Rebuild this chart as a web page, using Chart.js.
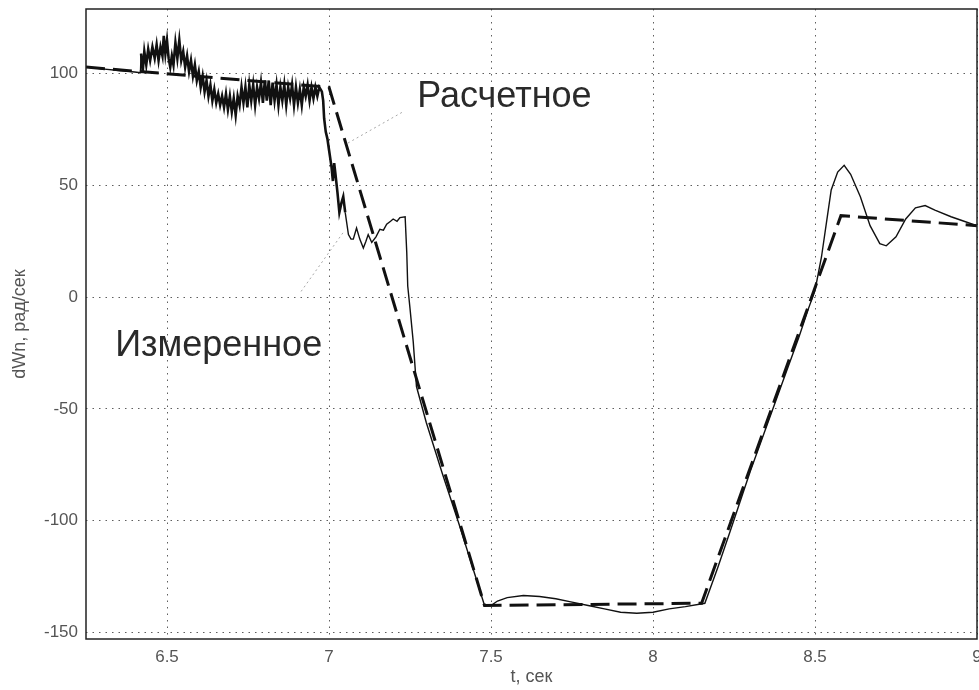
<!DOCTYPE html>
<html lang="ru">
<head>
<meta charset="utf-8">
<title>dWn, рад/сек</title>
<script src="https://cdn.jsdelivr.net/npm/chart.js@4.4.1/dist/chart.umd.min.js"></script>
<style>
  html, body { margin: 0; padding: 0; background: #fff; }
  #wrap { position: relative; width: 979px; height: 690px; }
</style>
</head>
<body>
<div id="wrap"><canvas id="chart"></canvas></div>
<script>
// Деления осей
const xTicks = [6.5, 7, 7.5, 8, 8.5, 9];
const yTicks = [-150, -100, -50, 0, 50, 100];

// Расчетное (пунктир): t, значение
const calcT = [6.25, 7.0, 7.48, 8.15, 8.58, 9.0];
const calcV = [103, 94, -138, -137, 36.5, 32];

// Измеренное (сплошная), по участкам: [t, значение]
const measStart = [[6.25, 103], [6.30, 102.2], [6.35, 101.5], [6.40, 100.8], [6.418, 100.5]];

const measNoise = [
  [6.420, 109], [6.425, 101], [6.430, 110], [6.436, 104], [6.442, 111], [6.448, 106],
  [6.455, 112], [6.462, 107], [6.468, 113], [6.474, 106], [6.480, 112], [6.486, 108],
  [6.490, 117], [6.495, 109], [6.500, 115], [6.505, 107], [6.510, 103], [6.515, 108],
  [6.520, 104], [6.526, 114], [6.532, 107], [6.538, 115], [6.544, 106], [6.550, 110],
  [6.556, 103], [6.562, 108], [6.568, 101], [6.574, 106], [6.580, 99], [6.586, 104],
  [6.592, 97], [6.598, 101], [6.604, 94], [6.610, 99], [6.616, 92], [6.622, 97],
  [6.628, 90], [6.634, 95], [6.640, 88], [6.646, 93], [6.652, 87], [6.658, 91],
  [6.664, 86], [6.670, 90], [6.676, 85], [6.682, 91], [6.688, 84], [6.694, 90],
  [6.700, 83], [6.706, 89], [6.712, 81.5], [6.718, 90], [6.724, 86], [6.730, 94],
  [6.736, 87], [6.742, 94], [6.748, 85], [6.754, 95], [6.760, 88], [6.766, 95],
  [6.772, 86], [6.778, 94], [6.784, 89], [6.790, 96], [6.796, 87], [6.802, 97],
  [6.808, 88], [6.814, 97], [6.820, 86], [6.826, 96], [6.832, 88], [6.838, 95],
  [6.844, 86], [6.850, 94], [6.856, 88], [6.862, 95], [6.868, 86], [6.874, 94],
  [6.880, 89], [6.886, 95], [6.892, 86], [6.898, 94], [6.904, 87], [6.910, 93],
  [6.916, 86], [6.922, 94], [6.928, 90], [6.934, 95], [6.940, 88], [6.946, 94],
  [6.952, 89], [6.958, 94], [6.964, 90], [6.970, 94], [6.974, 93]
];

const measDrop = [
  [6.978, 92], [6.982, 88], [6.985, 80], [6.990, 74], [6.995, 71], [7.000, 66],
  [7.004, 62], [7.008, 58], [7.012, 52], [7.016, 60], [7.020, 55], [7.026, 47],
  [7.032, 38], [7.038, 42], [7.044, 45], [7.050, 38], [7.060, 28], [7.068, 26],
  [7.075, 26], [7.085, 31], [7.095, 26], [7.106, 22], [7.114, 25], [7.121, 28],
  [7.132, 24.5], [7.145, 27], [7.157, 30.4], [7.168, 30], [7.178, 32.7], [7.190, 34],
  [7.198, 35], [7.210, 34], [7.219, 35.6], [7.235, 36], [7.240, 20], [7.243, 5],
  [7.250, -5], [7.260, -20], [7.270, -40], [7.300, -56], [7.350, -79], [7.400, -101],
  [7.450, -124], [7.480, -138]
];

const measBottom = [
  [7.50, -138], [7.52, -136], [7.55, -134.5], [7.60, -133.5], [7.65, -134], [7.70, -135],
  [7.75, -136.5], [7.80, -138], [7.85, -139.5], [7.90, -141], [7.95, -141.5], [8.00, -141],
  [8.05, -139.5], [8.10, -138.5], [8.16, -137]
];

const measRise = [
  [8.20, -121], [8.24, -104], [8.30, -78], [8.35, -58], [8.40, -38], [8.45, -18],
  [8.48, -5], [8.50, 3], [8.52, 18], [8.535, 33], [8.55, 48], [8.57, 56],
  [8.59, 59], [8.61, 55], [8.64, 45], [8.67, 32], [8.70, 24], [8.72, 23],
  [8.75, 27], [8.78, 35], [8.81, 40], [8.84, 41], [8.87, 39], [8.92, 36],
  [8.96, 34], [9.00, 32]
];

const measured = [...measStart, ...measNoise, ...measDrop, ...measBottom, ...measRise]
  .map(([t, v]) => ({ x: t, y: v }));
const calculated = calcT.map((t, i) => ({ x: t, y: calcV[i] }));

// Рамка вокруг области графика + подписи с выносками
const framePlugin = {
  id: 'frame',
  afterDatasetsDraw(chart) {
    const { ctx, chartArea: a, scales: { x, y } } = chart;
    ctx.save();
    ctx.strokeStyle = '#222';
    ctx.lineWidth = 1.5;
    ctx.strokeRect(a.left, a.top, a.right - a.left, a.bottom - a.top);

    // выноски
    ctx.strokeStyle = '#a8a8a8';
    ctx.lineWidth = 1;
    ctx.setLineDash([2, 3]);
    const lines = [
      [7.225, 82.7, 7.056, 68.8],
      [7.043, 28.8, 6.91, 1.8]
    ];
    lines.forEach(([t1, v1, t2, v2]) => {
      ctx.beginPath();
      ctx.moveTo(x.getPixelForValue(t1), y.getPixelForValue(v1));
      ctx.lineTo(x.getPixelForValue(t2), y.getPixelForValue(v2));
      ctx.stroke();
    });
    ctx.setLineDash([]);

    ctx.fillStyle = '#2a2a2a';
    ctx.font = '36px "Liberation Sans", Arial, sans-serif';
    ctx.textBaseline = 'alphabetic';
    ctx.textAlign = 'left';
    ctx.fillText('Расчетное', x.getPixelForValue(7.272), y.getPixelForValue(85));
    ctx.fillText('Измеренное', x.getPixelForValue(6.34), y.getPixelForValue(-26.5));
    ctx.restore();
  }
};

const gridColor = 'rgba(40,40,40,0.75)';
const tickFont = { family: '"Liberation Sans", Arial, sans-serif', size: 17 };
const titleFont = { family: '"Liberation Sans", Arial, sans-serif', size: 18 };

// шумный участок рисуется толще, как на скане
const noisyWidth = (ctx) => {
  const t = ctx.p0.parsed.x;
  return t >= 6.419 && t < 7.05 ? 2.6 : 1.4;
};

new Chart(document.getElementById('chart'), {
  type: 'line',
  data: {
    datasets: [
      {
        label: 'Расчетное',
        data: calculated,
        borderColor: '#111',
        borderWidth: 3,
        borderDash: [19, 8],
        pointRadius: 0,
        tension: 0
      },
      {
        label: 'Измеренное',
        data: measured,
        borderColor: '#111',
        borderWidth: 1.4,
        segment: { borderWidth: noisyWidth },
        pointRadius: 0,
        tension: 0
      }
    ]
  },
  options: {
    responsive: true,
    maintainAspectRatio: false,
    animation: false,
    layout: { padding: { top: 9, right: 2, bottom: 0, left: 0 } },
    plugins: {
      legend: { display: false },
      tooltip: { enabled: false }
    },
    scales: {
      x: {
        type: 'linear',
        min: 6.25,
        max: 9,
        afterBuildTicks: (axis) => { axis.ticks = xTicks.map(v => ({ value: v })); },
        afterFit: (scale) => { scale.height = 51; scale.paddingLeft = 0; scale.paddingRight = 0; },
        ticks: {
          color: '#555',
          font: tickFont,
          padding: 8,
          maxRotation: 0,
          callback: (v) => String(v)
        },
        grid: { color: gridColor, lineWidth: 1, drawTicks: false },
        border: { display: false, dash: [1.5, 5] },
        title: { display: true, text: 't, сек', color: '#555', font: titleFont, padding: { top: 0, bottom: 2 } }
      },
      y: {
        type: 'linear',
        min: -153,
        max: 129,
        afterBuildTicks: (axis) => { axis.ticks = yTicks.map(v => ({ value: v })); },
        afterFit: (scale) => { scale.width = 86; scale.paddingTop = 0; scale.paddingBottom = 0; },
        ticks: {
          color: '#555',
          font: tickFont,
          padding: 8,
          callback: (v) => String(v)
        },
        grid: { color: gridColor, lineWidth: 1, drawTicks: false },
        border: { display: false, dash: [1.5, 5] },
        title: { display: true, text: 'dWn, рад/сек', color: '#555', font: titleFont, padding: { top: 9, bottom: 0 } }
      }
    }
  },
  plugins: [framePlugin]
});
</script>
</body>
</html>
